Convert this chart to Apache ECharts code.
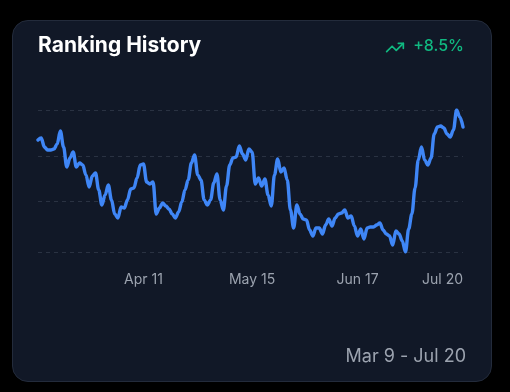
<!DOCTYPE html>
<html>
<head>
<meta charset="utf-8">
<script src="https://cdn.jsdelivr.net/npm/echarts@6/dist/echarts.min.js"></script>
<style>
  html, body { margin: 0; padding: 0; background: #000; width: 510px; height: 392px; overflow: hidden; }
  #card { position: absolute; left: 12px; top: 20px; width: 478px; height: 360px; border-radius: 16px;
          background: #111827; border: 1px solid #232b3b; }
  #chart { position: absolute; left: 0; top: 0; width: 510px; height: 392px; }
</style>
</head>
<body>
<div id="card"></div>
<div id="chart"></div>
<script>
// Title / summary texts
const titleText = 'Ranking History';
const changeText = '+8.5%';
const rangeText = 'Mar 9 - Jul 20';

// Tick labels shown on the x axis
const tickLabels = ['Apr 11', 'May 15', 'Jun 17', 'Jul 20'];

// Categories: daily dates from Mar 9 to Jul 20
const monthNames = ['Jan','Feb','Mar','Apr','May','Jun','Jul','Aug','Sep','Oct','Nov','Dec'];
const dates = [];
(function () {
  const d = new Date(2024, 2, 9);
  const end = new Date(2024, 6, 20);
  while (d <= end) {
    dates.push(monthNames[d.getMonth()] + ' ' + d.getDate());
    d.setDate(d.getDate() + 1);
  }
})();

// Ranking score per day
const scores = [
  152, 154, 145, 142, 142, 143, 148, 161, 145, 125,
  134, 140, 125, 129, 127, 117, 105, 116, 119, 102,
  87, 97, 107, 92, 78, 74, 85, 84, 92, 103,
  104, 114, 127, 128, 110, 108, 110, 78, 84, 89,
  86, 83, 78, 74, 80, 90, 102, 112, 129, 137,
  117, 112, 92, 87, 92, 109, 118, 92, 82, 106,
  127, 134, 135, 146, 138, 132, 143, 140, 108, 114,
  106, 113, 97, 86, 117, 133, 120, 124, 112, 82,
  64, 87, 78, 73, 72, 62, 56, 64, 64, 58,
  67, 73, 66, 74, 78, 79, 82, 74, 76, 66,
  56, 63, 53, 64, 65, 65, 67, 69, 62, 58,
  56, 47, 61, 58, 51, 40, 63, 78, 104, 132,
  145, 132, 127, 134, 158, 165, 166, 164, 158, 155,
  162, 182, 175, 165
];

// Horizontal dashed guide levels
const gridLevels = [182, 136, 91, 40];

const chart = echarts.init(document.getElementById('chart'), null, { renderer: 'canvas' });

const s = 20 / 24;
const ix = 385, iy = 37.5;
function pt(x, y) { return [ix + x * s, iy + y * s]; }

chart.setOption({
  backgroundColor: 'transparent',
  animation: false,
  textStyle: { fontFamily: 'Inter, "Noto Sans", sans-serif' },
  grid: { left: 38, right: 47, top: 110, bottom: 140, containLabel: false },
  xAxis: {
    type: 'category',
    data: dates,
    boundaryGap: false,
    axisLine: { show: false },
    axisTick: { show: false },
    splitLine: { show: false },
    axisLabel: {
      color: '#9ca3af',
      fontSize: 14,
      fontFamily: 'Inter, sans-serif',
      margin: 21,
      interval: function (i, v) { return tickLabels.indexOf(v) !== -1; },
      alignMaxLabel: 'right'
    }
  },
  yAxis: {
    type: 'value',
    min: gridLevels[3],
    max: gridLevels[0],
    show: false,
    splitLine: { show: false }
  },
  series: [
    {
      type: 'line',
      data: [],
      z: 1,
      silent: true,
      markLine: {
        silent: true,
        symbol: 'none',
        z: 1,
        label: { show: false },
        lineStyle: { color: '#2a3242', type: [4, 4], width: 1 },
        data: gridLevels.map(v => ({ yAxis: v }))
      }
    },
    {
      type: 'line',
      data: scores,
      z: 5,
      smooth: 0.35,
      smoothMonotone: 'x',
      showSymbol: false,
      lineStyle: { color: '#3f86f6', width: 3.4, cap: 'round', join: 'round' },
      itemStyle: { color: '#3f86f6' }
    }
  ],
  graphic: [
    {
      type: 'text', left: 38, top: 35,
      style: { text: titleText, fill: '#ffffff', font: 'bold 21px Inter, sans-serif' }
    },
    {
      type: 'text', right: 46, top: 38,
      style: { text: changeText, fill: '#10b981', font: '500 16px Inter, sans-serif' }
    },
    {
      type: 'polyline',
      shape: { points: [pt(22, 7), pt(13.5, 15.5), pt(8.5, 10.5), pt(2, 17)] },
      style: { stroke: '#10b981', lineWidth: 1.7, fill: null, lineCap: 'round', lineJoin: 'round' }
    },
    {
      type: 'polyline',
      shape: { points: [pt(16, 7), pt(22, 7), pt(22, 13)] },
      style: { stroke: '#10b981', lineWidth: 1.7, fill: null, lineCap: 'round', lineJoin: 'round' }
    },
    {
      type: 'text', right: 44, top: 348,
      style: { text: rangeText, fill: '#9ca3af', font: '18px Inter, sans-serif' }
    }
  ]
});
</script>
</body>
</html>
